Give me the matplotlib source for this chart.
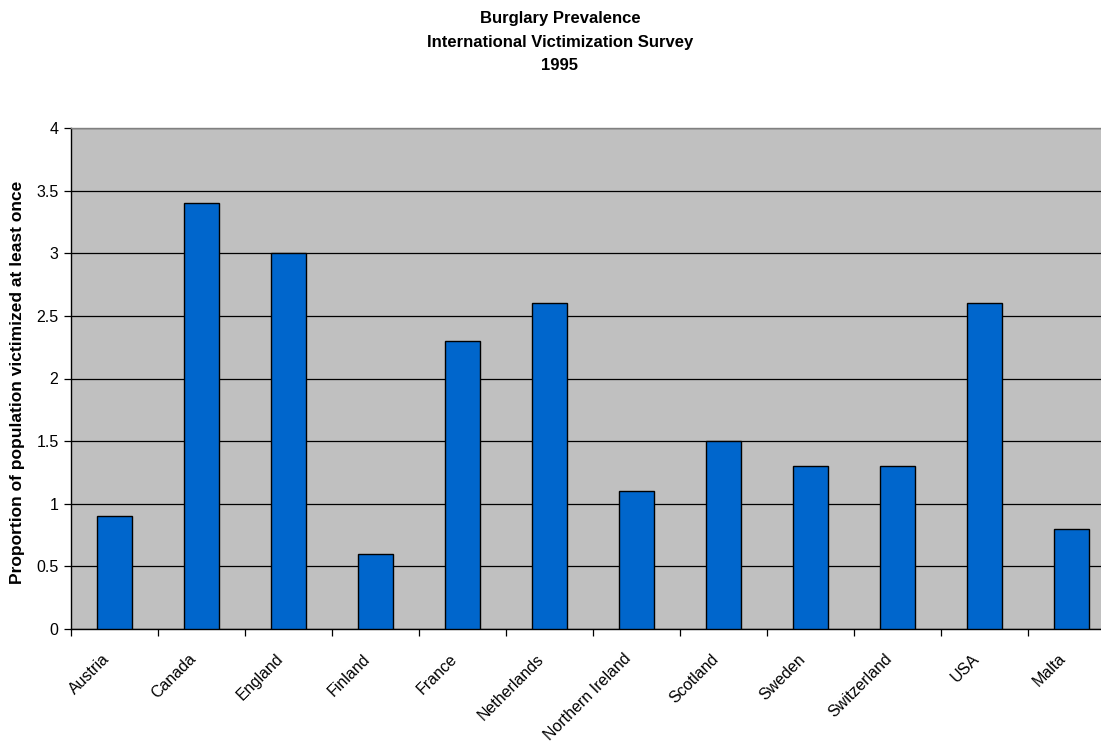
import matplotlib
matplotlib.use("Agg")
import matplotlib.pyplot as plt
import matplotlib.transforms as mtransforms
import numpy as np

countries = ["Austria", "Canada", "England", "Finland", "France", "Netherlands",
             "Northern Ireland", "Scotland", "Sweden", "Switzerland", "USA", "Malta"]
prevalence = [0.9, 3.4, 3.0, 0.6, 2.3, 2.6, 1.1, 1.5, 1.3, 1.3, 2.6, 0.8]
y_ticks = [0, 0.5, 1, 1.5, 2, 2.5, 3, 3.5, 4]
y_tick_labels = ["0", "0.5", "1", "1.5", "2", "2.5", "3", "3.5", "4"]

plt.rcParams["font.family"] = ["Liberation Sans", "DejaVu Sans"]

W, H = 1101, 743
fig = plt.figure(figsize=(W / 100, H / 100), dpi=100)
# plot area runs past the right edge of the figure
ax = fig.add_axes([71 / W, (H - 629) / H, 1044 / W, 501 / H])
ax.set_facecolor("#C0C0C0")

x = np.arange(len(countries))
ax.set_axisbelow(True)
ax.yaxis.grid(True, color="black", linewidth=0.9)
ax.bar(x, prevalence, width=0.4, color="#0066CC", edgecolor="black", linewidth=1.0, zorder=3)

ax.set_xlim(-0.5, len(countries) - 0.5)
ax.set_ylim(0, 4)
ax.set_yticks(y_ticks)
ax.set_yticklabels(y_tick_labels, fontsize=11.5)
ax.tick_params(axis="y", direction="out", length=5, width=0.9, pad=4)

ax.set_xticks(x)
ax.set_xticklabels(countries, fontsize=11.5, rotation=45, ha="right", va="top",
                   rotation_mode="anchor")
ax.tick_params(axis="x", which="major", length=0, pad=16)
# nudge the slanted labels a little to the left
shift = mtransforms.ScaledTranslation(-13 / 100, 0, fig.dpi_scale_trans)
for lbl in ax.get_xticklabels():
    lbl.set_transform(lbl.get_transform() + shift)
ax.set_xticks(np.arange(len(countries)) - 0.5, minor=True)
ax.tick_params(axis="x", which="minor", direction="out", length=5, width=0.9)

ax.spines["left"].set_color("black")
ax.spines["bottom"].set_color("black")
ax.spines["top"].set_color("#808080")
ax.spines["right"].set_visible(False)
for s in ax.spines.values():
    s.set_linewidth(1.0)

fig.text(560 / W, 1 - 42 / H,
         "Burglary Prevalence\nInternational Victimization Survey\n1995",
         ha="center", va="center", fontsize=12, fontweight="bold", linespacing=1.7)
fig.text(18 / W, 1 - 382 / H, "Proportion of population victimized at least once",
         rotation=90, ha="center", va="center", fontsize=12.5, fontweight="bold")

fig.savefig("out.png", dpi=100)
